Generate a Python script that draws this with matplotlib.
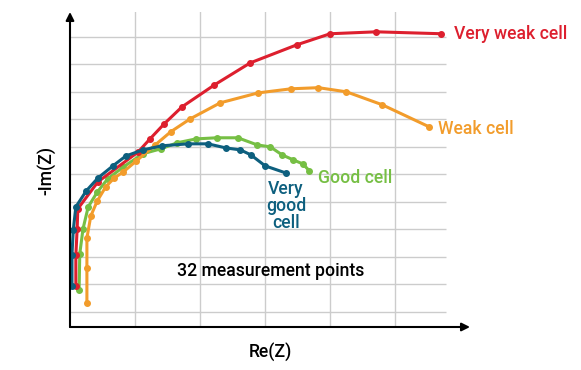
import matplotlib.pyplot as plt

plt.rcParams['font.family'] = ['Roboto', 'DejaVu Sans']

# Nyquist-style curves, one grid square = one unit
vgood_x = [0.03, 0.03, 0.05, 0.09, 0.25, 0.43, 0.66, 0.86, 1.12, 1.42, 1.82, 2.12, 2.40, 2.62, 2.78, 3.00, 3.32]
vgood_y = [1.95, 3.07, 3.98, 4.82, 5.40, 5.87, 6.31, 6.67, 6.89, 7.04, 7.11, 7.11, 6.96, 6.89, 6.71, 6.31, 6.05]

good_x = [0.14, 0.15, 0.20, 0.28, 0.42, 0.58, 0.82, 1.12, 1.40, 1.65, 1.94, 2.26, 2.58, 2.88, 3.08, 3.26, 3.43, 3.58, 3.68]
good_y = [1.80, 3.11, 4.02, 4.82, 5.36, 5.84, 6.27, 6.75, 6.93, 7.15, 7.29, 7.33, 7.33, 7.07, 7.00, 6.71, 6.53, 6.38, 6.13]

weak_x = [0.26, 0.26, 0.26, 0.32, 0.42, 0.55, 0.68, 0.82, 1.02, 1.31, 1.55, 1.85, 2.31, 2.89, 3.40, 3.82, 4.25, 4.80, 5.52]
weak_y = [1.33, 2.60, 3.69, 4.49, 5.04, 5.55, 5.87, 6.09, 6.49, 7.07, 7.55, 8.02, 8.60, 8.96, 9.11, 9.15, 9.00, 8.53, 7.73]

vweak_x = [0.09, 0.09, 0.11, 0.12, 0.43, 1.05, 1.23, 1.45, 1.72, 2.22, 2.77, 3.49, 4.00, 4.71, 5.71]
vweak_y = [1.95, 3.07, 4.02, 4.75, 5.73, 6.82, 7.29, 7.84, 8.45, 9.25, 10.05, 10.71, 11.11, 11.18, 11.11]

c_vgood = '#0d5f7e'
c_good = '#76bf44'
c_weak = '#f29c2b'
c_vweak = '#dd1f2e'

y0 = 0.455
x_end = 6.15
y_end = 11.9
fs = 12.7

fig = plt.figure(figsize=(5.81, 3.70), dpi=100)
ax = fig.add_axes([70 / 581, 43 / 370, 400 / 581, 315 / 370])
ax.set_xlim(0, x_end)
ax.set_ylim(y0, y_end)

# grid
ax.hlines(range(1, 12), 0, 5.78, color='#cccccc', lw=1, zorder=0)
ax.vlines(range(1, 6), y0, 11.98, color='#cccccc', lw=1, zorder=0)

for xs, ys, c in [(good_x, good_y, c_good), (weak_x, weak_y, c_weak),
                  (vweak_x, vweak_y, c_vweak), (vgood_x, vgood_y, c_vgood)]:
    ax.plot(xs, ys, color=c, lw=2.2, marker='o', ms=4, zorder=3)

for s in ax.spines.values():
    s.set_visible(False)
ax.set_xticks([])
ax.set_yticks([])

arrow = dict(arrowstyle='-|>', color='black', lw=1.5, mutation_scale=12, shrinkA=0, shrinkB=0)
ax.annotate('', xy=(x_end, y0), xytext=(0, y0), arrowprops=arrow, annotation_clip=False)
ax.annotate('', xy=(0, y_end), xytext=(0, y0), arrowprops=arrow, annotation_clip=False)

ax.text(5.9, 11.11, 'Very weak cell', color=c_vweak, fontsize=fs, weight='medium', va='center', ha='left')
ax.text(5.66, 7.66, 'Weak cell', color=c_weak, fontsize=fs, weight='medium', va='center', ha='left')
ax.text(3.82, 5.88, 'Good cell', color=c_good, fontsize=fs, weight='medium', va='center', ha='left')
ax.text(3.32, 4.85, 'Very\ngood\ncell', color=c_vgood, fontsize=fs, weight='medium', va='center', ha='center', linespacing=0.95)
ax.text(3.08, 2.5, '32 measurement points', color='black', fontsize=fs, weight='medium', va='center', ha='center')

fig.text(270 / 581, 1 - 352 / 370, 'Re(Z)', fontsize=fs, weight='medium', ha='center', va='center')
fig.text(47 / 581, 1 - 170 / 370, '-Im(Z)', fontsize=fs, weight='medium', ha='center', va='center', rotation=90)

fig.savefig('out.png', dpi=100)
